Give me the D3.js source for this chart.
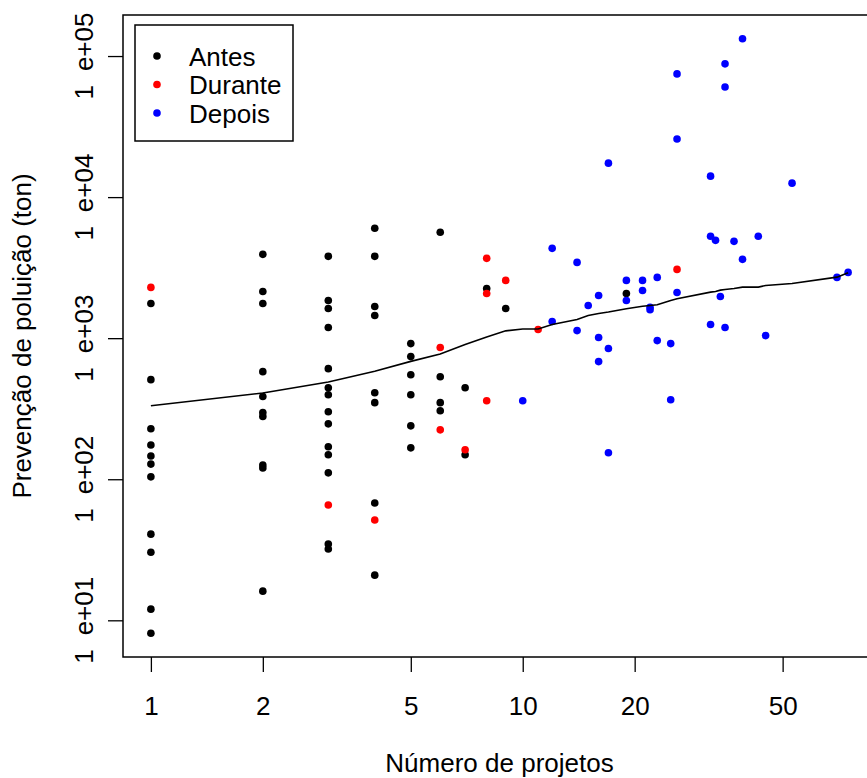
<!DOCTYPE html>
<html>
<head>
<meta charset="utf-8">
<script src="https://cdn.jsdelivr.net/npm/d3@7/dist/d3.min.js"></script>
<style>
  html, body { margin: 0; padding: 0; background: #fff; }
  svg { display: block; font-family: "Liberation Sans", Arial, Helvetica, sans-serif; }
</style>
</head>
<body>
<div id="chart"></div>
<script>
// ---------- data ----------
const antesX = [1,1,1,1,1,1,1,1,1,1,1,
                2,2,2,2,2,2,2,2,2,2,
                3,3,3,3,3,3,3,3,3,3,3,3,3,3,
                4,4,4,4,4,4,4,4,
                5,5,5,5,5,5,
                6,6,6,6,
                7,7,
                8, 9, 19];
const antesY = [1760,508,228,175,146,128,104,40.8,30.4,12,8.1,
                3930,2144,1760,579,386,297,279,126,120,16.1,
                3802,1850,1623,1189,608,445,397,301,247,170,149,111,34.7,32,
                6012,3802,1677,1447,410,349,67.9,20.9,
                915,740,551,397,239,167,
                5630,533,349,306,
                445,149,
                2251, 1623, 2075];

const duranteX = [1, 3, 4, 6, 6, 7, 8, 8, 8, 9, 11, 26];
const duranteY = [2290, 65.7, 51.4, 858, 224, 162, 3679, 2075, 360, 2567, 1151, 3073];

const depoisX = [10, 12, 12, 14, 14, 15, 16, 16, 16, 17, 17, 17,
                 19, 19, 21, 21, 22, 22, 23, 23, 25, 25,
                 26, 26, 26, 32, 32, 32, 33, 34, 35, 35, 35,
                 37, 39, 39, 43, 45, 53, 70, 75];
const depoisY = [360, 4333, 1312, 3446, 1132, 1705, 2008, 1010, 682, 17410, 844, 154,
                 2567, 1850, 2567, 2179, 1658, 1589, 2696, 961, 915, 366,
                 74730, 25790, 2109, 14080, 5273, 1249, 4939, 1975, 88030, 60400, 1189,
                 4858, 132550, 3620, 5273, 1043, 12560, 2696, 2926];

// smooth (lowess) curve
const lowessX = [1,2,3,4,5,6,7,8,9,10,11,12,14,15,16,17,19,21,22,23,25,26,32,33,34,35,37,39,43,45,53,70,75];
const lowessY = [332,409,489,582,685,773,901,1021,1127,1161,1161,1249,1356,1447,1495,1532,1616,1686,1705,1725,1850,1902,2120,2145,2190,2215,2251,2300,2300,2365,2443,2709,2912];

const seriesNames = ["Antes", "Durante", "Depois"];
const seriesColors = ["#000000", "#FF0000", "#0000FF"];

const xTicks = [1, 2, 5, 10, 20, 50];
const yTicks = [10, 100, 1000, 10000, 100000];

const xTitle = "Número de projetos";
const yTitle = "Prevenção de poluição (ton)";

// ---------- layout ----------
const W = 867, H = 778;
const plot = { left: 123, right: 876, top: 15, bottom: 657 };
const FONT = 26;

const svg = d3.select("#chart").append("svg")
  .attr("width", W).attr("height", H);
svg.append("rect").attr("width", W).attr("height", H).attr("fill", "#fff");

// R-style 4% extension on log axes
function logDomain(vals) {
  const lo = Math.log10(d3.min(vals)), hi = Math.log10(d3.max(vals));
  const e = (hi - lo) * 0.04;
  return [Math.pow(10, lo - e), Math.pow(10, hi + e)];
}
const allX = antesX.concat(duranteX, depoisX);
const allY = antesY.concat(duranteY, depoisY);

const x = d3.scaleLog().domain(logDomain(allX)).range([plot.left, plot.right]);
const y = d3.scaleLog().domain(logDomain(allY)).range([plot.bottom, plot.top]);

// ---------- axes ----------
const xAxis = d3.axisBottom(x).tickValues(xTicks).tickSize(15).tickPadding(25)
  .tickFormat(d => String(d));
const gx = svg.append("g").attr("transform", `translate(0,${plot.bottom})`).call(xAxis);
gx.select(".domain").remove();
gx.selectAll(".tick line").attr("stroke", "#000").attr("stroke-width", 1.3);
gx.selectAll(".tick text").attr("fill", "#000").style("font-size", FONT + "px")
  .style("font-family", "'Liberation Sans', Arial, sans-serif");

const yAxis = d3.axisLeft(y).tickValues(yTicks).tickSize(15).tickFormat("");
const gy = svg.append("g").attr("transform", `translate(${plot.left},0)`).call(yAxis);
gy.select(".domain").remove();
gy.selectAll(".tick line").attr("stroke", "#000").attr("stroke-width", 1.3);

// rotated y tick labels "1e+0k"
yTicks.forEach(v => {
  const exp = Math.round(Math.log10(v));
  const t = svg.append("text")
    .attr("transform", `translate(93,${y(v)}) rotate(-90)`)
    .attr("text-anchor", "middle")
    .style("font-size", FONT + "px")
    .attr("fill", "#000");
  t.append("tspan").text("1");
  t.append("tspan").attr("dx", 14).text("e+" + String(exp).padStart(2, "0"));
});

// axis titles
svg.append("text")
  .attr("x", (plot.left + plot.right) / 2).attr("y", 772)
  .attr("text-anchor", "middle").style("font-size", FONT + "px")
  .attr("fill", "#000").text(xTitle);
svg.append("text")
  .attr("transform", `translate(31,${(plot.top + plot.bottom) / 2}) rotate(-90)`)
  .attr("text-anchor", "middle").style("font-size", FONT + "px")
  .attr("fill", "#000").text(yTitle);

// ---------- points ----------
const series = [
  { name: seriesNames[0], color: seriesColors[0], xs: antesX, ys: antesY },
  { name: seriesNames[1], color: seriesColors[1], xs: duranteX, ys: duranteY },
  { name: seriesNames[2], color: seriesColors[2], xs: depoisX, ys: depoisY }
];
const pts = svg.append("g").attr("clip-path", null);
series.forEach(s => {
  pts.append("g").selectAll("circle")
    .data(s.xs.map((xv, i) => [xv, s.ys[i]]))
    .join("circle")
    .attr("cx", d => x(d[0]))
    .attr("cy", d => y(d[1]))
    .attr("r", 3.8)
    .attr("fill", s.color);
});

// ---------- smooth line ----------
const line = d3.line().x(d => x(d[0])).y(d => y(d[1]));
svg.append("path")
  .datum(lowessX.map((xv, i) => [xv, lowessY[i]]))
  .attr("d", line)
  .attr("fill", "none").attr("stroke", "#000").attr("stroke-width", 1.6);

// ---------- plot box ----------
svg.append("rect")
  .attr("x", plot.left).attr("y", plot.top)
  .attr("width", plot.right - plot.left).attr("height", plot.bottom - plot.top)
  .attr("fill", "none").attr("stroke", "#000").attr("stroke-width", 1.5);

// ---------- legend ----------
const lg = svg.append("g");
lg.append("rect").attr("x", 135).attr("y", 25).attr("width", 158).attr("height", 116)
  .attr("fill", "#fff").attr("stroke", "#000").attr("stroke-width", 1.5);
series.forEach((s, i) => {
  const cy = 56 + i * 28.5;
  lg.append("circle").attr("cx", 157).attr("cy", cy).attr("r", 3.8).attr("fill", s.color);
  lg.append("text").attr("x", 189).attr("y", cy + 9.5)
    .style("font-size", FONT + "px").attr("fill", "#000").text(s.name);
});
</script>
</body>
</html>
